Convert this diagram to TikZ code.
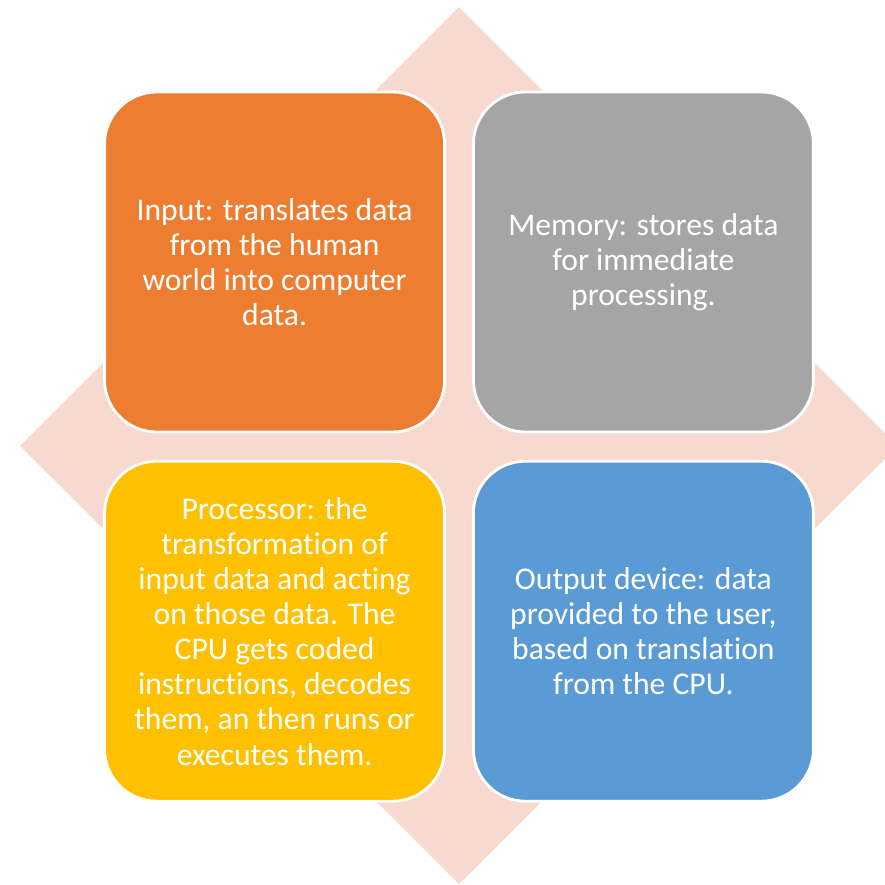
\documentclass[tikz,border=0pt]{standalone}
\usepackage{fontspec}
\setmainfont{Carlito}[Ligatures=NoCommon]
\usepackage{xcolor}
\usepackage{tikz}
\definecolor{diamondpink}{HTML}{F8D9CF}
\definecolor{inputorange}{HTML}{ED7D31}
\definecolor{memorygray}{HTML}{A5A5A5}
\definecolor{cpuyellow}{HTML}{FFC000}
\definecolor{outputblue}{HTML}{5B9BD5}

\begin{document}
\begin{tikzpicture}[
    box/.style={rectangle, rounded corners=1.3cm, draw=white, line width=2pt,
      minimum width=8.5cm, minimum height=8.5cm, inner sep=0pt,
      text=white, align=center, font=\fontsize{22.5}{25}\selectfont}
]
  \useasboundingbox (-11.475,-10.975) rectangle (10.65,11.15);

  % Raute im Hintergrund
  \fill[diamondpink] (0,10.97) -- (10.97,0) -- (0,-10.95) -- (-10.97,0) -- cycle;

  % Eingabe (oben links)
  \node[box, fill=inputorange] (input) at (-4.61,4.6)
    {Input: translates data\\from the human\\world into computer\\data.};

  % Speicher (oben rechts)
  \node[box, fill=memorygray] (memory) at (4.61,4.6)
    {Memory: stores data\\for immediate\\processing.};

  % Prozessor (unten links)
  \node[box, fill=cpuyellow] (processor) at (-4.61,-4.63)
    {Processor: the\\transformation of\\input data and acting\\on those data. The\\CPU gets coded\\instructions, decodes\\them, an then runs or\\executes them.};

  % Ausgabe (unten rechts)
  \node[box, fill=outputblue] (output) at (4.61,-4.63)
    {Output device: data\\provided to the user,\\based on translation\\from the CPU.};

\end{tikzpicture}
\end{document}
